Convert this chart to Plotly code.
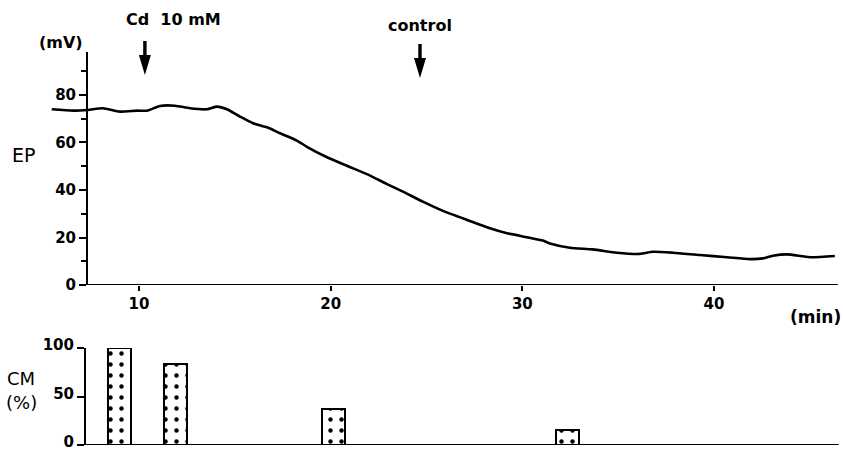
import plotly.graph_objects as go

# EP trace (time in min, potential in mV)
ep_time = [5.45, 6.56, 7.34, 8.12, 9.01, 9.90, 10.42, 11.10, 11.88, 12.66, 13.55, 14.07,
           14.59, 15.27, 15.95, 16.68, 17.36, 18.24, 18.76, 19.81, 20.85, 21.89, 22.94,
           23.77, 24.81, 25.86, 27.11, 28.31, 29.20, 30.24, 31.07, 31.44, 32.48, 33.68,
           34.93, 36.13, 36.81, 37.86, 39.26, 40.67, 41.87, 42.55, 43.07, 43.80, 45.00, 46.30]
ep_mv = [74.0, 73.4, 73.7, 74.4, 73.0, 73.4, 73.4, 75.4, 75.5, 74.4, 74.0, 75.1,
         74.0, 70.9, 68.1, 66.4, 63.9, 60.8, 58.2, 53.8, 50.2, 46.7, 42.5,
         39.3, 35.1, 31.2, 27.4, 23.9, 21.8, 20.1, 18.7, 17.5, 15.7, 15.0,
         13.6, 13.1, 14.0, 13.6, 12.6, 11.7, 10.9, 11.2, 12.3, 12.9, 11.7, 12.2]

# CM bars
cm_time = [8.98, 11.90, 20.15, 32.35]
cm_pct = [100, 84, 37, 15.5]

x_ticks = [10, 20, 30, 40]
ep_ticks = [0, 20, 40, 60, 80]
cm_ticks = [0, 50, 100]

arrow_times = [10.31, 24.66]

W, H = 844, 452
L, R = 50, 4
PW = W - L - R


def px(x):
    return (x - L) / PW


def py(y):
    return (H - y) / H


XR = [5.36, 46.57]
FONT = "DejaVu Sans"

fig = go.Figure()
fig.add_trace(go.Scatter(x=ep_time, y=ep_mv, mode="lines", line=dict(color="black", width=2.6, shape="spline", smoothing=0.6),
                         xaxis="x", yaxis="y", showlegend=False, hoverinfo="skip"))
fig.add_trace(go.Bar(x=cm_time, y=cm_pct, width=1.2, xaxis="x2", yaxis="y2", showlegend=False,
                     marker=dict(color="white", line=dict(color="black", width=2),
                                 pattern=dict(shape=".", fgcolor="black", bgcolor="white", fgopacity=1,
                                              size=11, solidity=0.13))))

tickfont = dict(family=FONT, size=15, color="black", weight="bold")

fig.update_layout(
    width=W, height=H, margin=dict(l=L, r=R, t=0, b=0),
    paper_bgcolor="white", plot_bgcolor="white",
    xaxis=dict(domain=[0, 1], range=XR, anchor="y", showline=False, showgrid=False, zeroline=False,
               tickvals=x_ticks, ticks="outside", ticklen=5, tickwidth=2, tickcolor="black",
               tickfont=tickfont, automargin=False),
    yaxis=dict(domain=[py(285), py(52)], range=[0, 98.1], anchor="free", position=px(87),
               showline=True, linewidth=2, linecolor="black", showgrid=False, zeroline=False,
               tickvals=ep_ticks, ticks="outside", ticklen=7, tickwidth=2, tickcolor="black",
               tickfont=tickfont, automargin=False, ticklabeloverflow="allow",
               minor=dict(tickvals=[10, 30, 50, 70, 90], ticks="outside", ticklen=5, tickwidth=2, tickcolor="black")),
    xaxis2=dict(domain=[0, 1], range=XR, anchor="y2", showline=False, showgrid=False, zeroline=False,
                showticklabels=False, ticks="", automargin=False),
    yaxis2=dict(domain=[py(445), py(348)], range=[0, 100], anchor="free", position=px(85),
                showline=True, linewidth=2, linecolor="black", showgrid=False, zeroline=False,
                tickvals=cm_ticks, ticks="outside", ticklen=7, tickwidth=2, tickcolor="black",
                tickfont=tickfont, automargin=False, ticklabeloverflow="allow", ticklabelshift=-3),
    bargap=0,
)

# baselines (x axis lines)
fig.add_shape(type="line", xref="x", yref="y", x0=7.29, x1=46.46, y0=0, y1=0, line=dict(color="black", width=2))
fig.add_shape(type="line", xref="x2", yref="y2", x0=7.18, x1=46.51, y0=0, y1=0, line=dict(color="black", width=2.2))

# arrows
arrow_path = "M 0,0 L -6,20 L -1.7,20 L -1.7,34 L 1.7,34 L 1.7,20 L 6,20 Z"
for t, tip in zip(arrow_times, [75, 78]):
    fig.add_shape(type="path", xref="x", yref="paper", xsizemode="pixel", ysizemode="pixel",
                  xanchor=t, yanchor=py(tip), path=arrow_path,
                  fillcolor="black", line=dict(color="black", width=0))

bold = dict(family=FONT, color="black", weight="bold")
reg = dict(family=FONT, color="black")


def ann(text, x, y, font, size, xanchor="center"):
    fig.add_annotation(text=text, x=px(x), y=py(y), xref="paper", yref="paper", showarrow=False,
                       xanchor=xanchor, yanchor="middle", font=dict(size=size, **font))


ann("(mV)", 61, 43, bold, 16)
ann("Cd\u00a0\u00a010 mM", 124, 20, bold, 16, "left")
ann("control", 420, 25, bold, 16)
ann("EP", 23, 155, reg, 19)
ann("(min)", 815, 317, bold, 17)
ann("CM", 21, 378, reg, 18)
ann("(%)", 21, 402, reg, 18)

fig.write_html("out.html", config={"displayModeBar": False},
               post_script="document.body.style.margin='0';document.body.style.overflow='hidden';")
